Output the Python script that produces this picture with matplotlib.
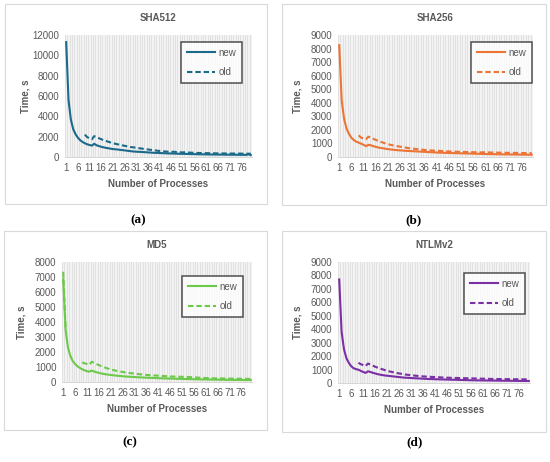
import numpy as np
import matplotlib
matplotlib.use("Agg")
import matplotlib.pyplot as plt
from matplotlib.patches import Rectangle

plt.rcParams['font.family'] = ['Liberation Sans', 'DejaVu Sans']

processes = list(range(1, 81))
tick_labels = [str(p) for p in range(1, 77, 5)]
nan = float('nan')

sha512_new = [11300, 5600, 3700, 2750, 2250, 1900, 1650, 1480, 1350, 1250,
              1180, 1120, 1300, 1150, 1080, 1000, 950, 900, 860, 820,
              780, 760, 740, 700, 680, 650, 620, 590, 560, 540,
              520, 510, 500, 480, 470, 450, 440, 420, 410, 400,
              390, 380, 370, 360, 350, 345, 340, 330, 320, 315,
              310, 305, 300, 290, 285, 280, 275, 270, 265, 260,
              255, 250, 248, 245, 240, 238, 235, 232, 230, 228,
              225, 222, 220, 218, 215, 212, 210, 208, 260, 190]
sha512_old = [nan] * 8 + [2200, 1950,
              1850, 1750, 2050, 1950, 1850, 1750, 1650, 1580, 1500, 1430,
              1370, 1300, 1250, 1200, 1150, 1100, 1050, 1000, 970, 940,
              900, 870, 840, 800, 770, 740, 710, 680, 650, 620,
              590, 570, 550, 530, 510, 500, 520, 490, 470, 460,
              450, 470, 440, 430, 420, 410, 400, 395, 390, 385,
              380, 375, 370, 365, 360, 355, 352, 350, 348, 345,
              342, 340, 338, 336, 334, 332, 330, 328, 326, 324]

sha256_new = [8250, 4200, 2800, 2100, 1700, 1420, 1250, 1130, 1060, 980,
              900, 800, 900, 860, 800, 750, 700, 670, 640, 610,
              580, 560, 540, 520, 500, 490, 475, 460, 450, 440,
              430, 420, 410, 400, 390, 380, 370, 360, 350, 340,
              330, 320, 315, 310, 300, 295, 290, 285, 280, 275,
              270, 265, 260, 255, 250, 245, 240, 235, 230, 225,
              220, 215, 212, 210, 205, 200, 198, 195, 192, 190,
              188, 185, 182, 180, 178, 175, 172, 170, 168, 165]
sha256_old = [nan] * 8 + [1600, 1420,
              1380, 1320, 1500, 1420, 1340, 1260, 1190, 1120, 1060, 1000,
              950, 900, 860, 820, 790, 760, 730, 700, 670, 640,
              620, 600, 580, 560, 540, 520, 500, 490, 480, 470,
              460, 450, 440, 430, 420, 410, 400, 395, 390, 385,
              380, 375, 370, 365, 360, 355, 350, 345, 340, 350,
              345, 340, 335, 330, 325, 320, 318, 315, 312, 310,
              308, 305, 302, 300, 298, 295, 292, 290, 288, 285]

md5_new = [6900, 3500, 2300, 1750, 1400, 1200, 1050, 940, 850, 780,
           720, 690, 760, 700, 650, 610, 570, 540, 510, 490,
           470, 450, 430, 415, 400, 385, 370, 360, 350, 340,
           330, 320, 310, 300, 295, 290, 280, 275, 270, 260,
           255, 250, 245, 240, 235, 230, 225, 220, 215, 210,
           205, 200, 198, 195, 190, 185, 180, 175, 172, 170,
           168, 165, 162, 160, 158, 155, 152, 150, 148, 146,
           144, 142, 140, 138, 136, 134, 132, 130, 128, 126]
md5_old = [7350, 3550] + [nan] * 6 + [1300, 1250,
           1200, 1150, 1350, 1280, 1200, 1130, 1060, 1000, 940, 890,
           840, 800, 760, 730, 700, 670, 640, 620, 600, 580,
           560, 540, 520, 505, 490, 475, 460, 450, 440, 430,
           420, 410, 400, 390, 380, 370, 365, 360, 355, 350,
           345, 340, 335, 330, 320, 315, 300, 290, 280, 270,
           265, 260, 255, 250, 245, 240, 238, 235, 232, 230,
           228, 225, 222, 220, 218, 215, 212, 210, 208, 205]

ntlm_new = [7700, 3800, 2500, 1850, 1500, 1250, 1100, 1030, 990, 900,
            820, 750, 870, 820, 760, 710, 660, 620, 590, 560,
            540, 520, 500, 480, 460, 440, 420, 400, 390, 380,
            370, 360, 350, 340, 330, 320, 310, 300, 295, 290,
            280, 275, 270, 265, 260, 255, 250, 245, 240, 235,
            230, 225, 220, 215, 210, 205, 200, 198, 195, 192,
            190, 188, 185, 182, 180, 178, 175, 172, 170, 168,
            166, 164, 162, 160, 158, 156, 154, 152, 150, 148]
ntlm_old = [nan] * 8 + [1500, 1400,
            1330, 1260, 1450, 1370, 1290, 1210, 1140, 1080, 1020, 960,
            910, 860, 820, 780, 740, 710, 680, 650, 620, 600,
            580, 560, 540, 520, 500, 490, 480, 470, 460, 450,
            440, 430, 420, 410, 400, 395, 390, 385, 380, 375,
            370, 365, 360, 355, 350, 345, 340, 335, 330, 325,
            320, 315, 310, 305, 300, 298, 295, 292, 290, 288,
            286, 284, 282, 280, 278, 276, 274, 272, 270, 268]

titles = ['SHA512', 'SHA256', 'MD5', 'NTLMv2']
captions = ['(a)', '(b)', '(c)', '(d)']
y_max = [12000, 9000, 8000, 9000]
y_step = [2000, 1000, 1000, 1000]
series = [(sha512_new, sha512_old), (sha256_new, sha256_old),
          (md5_new, md5_old), (ntlm_new, ntlm_old)]
colors = ['#1b6a8a', '#ec7434', '#6cc94a', '#7a2fa5']

# layout in pixels: chart box, plot area, caption position, legend top-right corner
W, H = 550, 462
boxes = [(5, 4, 267, 204), (282, 4, 546, 205), (4, 231, 267, 430), (282, 231, 546, 432)]
plots = [(65, 35, 252, 157), (338, 35, 533, 157), (62, 262, 252, 382), (338, 262, 530, 383)]
cap_pos = [(138, 220), (413, 220), (130, 442), (415, 442)]
legend_tr = [(242, 42), (532, 42), (243, 276), (525, 273)]

grey = '#595959'
fig = plt.figure(figsize=(W / 100, H / 100), dpi=100)

for i in range(4):
    bx0, by0, bx1, by1 = boxes[i]
    fig.add_artist(Rectangle((bx0 / W, 1 - by1 / H), (bx1 - bx0) / W, (by1 - by0) / H,
                             transform=fig.transFigure, fill=False,
                             edgecolor='#d9d9d9', linewidth=0.8))
    x0, y0, x1, y1 = plots[i]
    ax = fig.add_axes([x0 / W, 1 - y1 / H, (x1 - x0) / W, (y1 - y0) / H])
    ax.set_facecolor('#f3f3f3')
    new, old = series[i]
    ax.plot(processes, new, color=colors[i], lw=1.5, label='new')
    ax.plot(processes, old, color=colors[i], lw=1.5, ls=(0, (2.6, 1.4)), label='old')
    ax.set_xlim(0.5, 80.5)
    ax.set_ylim(0, y_max[i])
    ax.set_yticks(np.arange(0, y_max[i] + 1, y_step[i]))
    ax.set_xticks(range(1, 77, 5))
    ax.set_xticklabels(tick_labels)
    ax.set_xticks(np.arange(0.5, 81, 1), minor=True)
    ax.grid(True, which='minor', axis='x', color='#dedede', lw=0.6)
    ax.tick_params(which='both', length=0, labelsize=7, colors=grey, pad=4)
    for s in ['top', 'left', 'right']:
        ax.spines[s].set_visible(False)
    ax.spines['bottom'].set_color('#d0d0d0')
    ax.spines['bottom'].set_linewidth(0.6)

    lx, ly = legend_tr[i]
    leg = ax.legend(loc='upper right',
                    bbox_to_anchor=((lx - x0) / (x1 - x0), 1 - (ly - y0) / (y1 - y0)),
                    fontsize=7, frameon=True, fancybox=False, handlelength=2.9,
                    handletextpad=0.35, labelspacing=0.95, borderpad=0.6,
                    borderaxespad=0)
    leg.get_frame().set_edgecolor('#262626')
    leg.get_frame().set_linewidth(1.1)
    for t in leg.get_texts():
        t.set_color(grey)

    cx = (x0 + x1) / 2
    fig.text(cx / W, 1 - (y0 - 17) / H, titles[i], ha='center', va='center',
             fontsize=7, fontweight='bold', color=grey)
    fig.text(cx / W, 1 - (y1 + 27) / H, 'Number of Processes', ha='center', va='center',
             fontsize=7, fontweight='bold', color=grey)
    fig.text((x0 - 40) / W, 1 - (y0 + y1) / 2 / H, 'Time, s', ha='center', va='center',
             rotation=90, fontsize=7, fontweight='bold', color=grey)
    px, py = cap_pos[i]
    fig.text(px / W, 1 - py / H, captions[i], ha='center', va='center',
             fontsize=9.5, fontweight='bold', family='Liberation Serif', color='black')

fig.savefig('out.png', dpi=100, facecolor='white')
